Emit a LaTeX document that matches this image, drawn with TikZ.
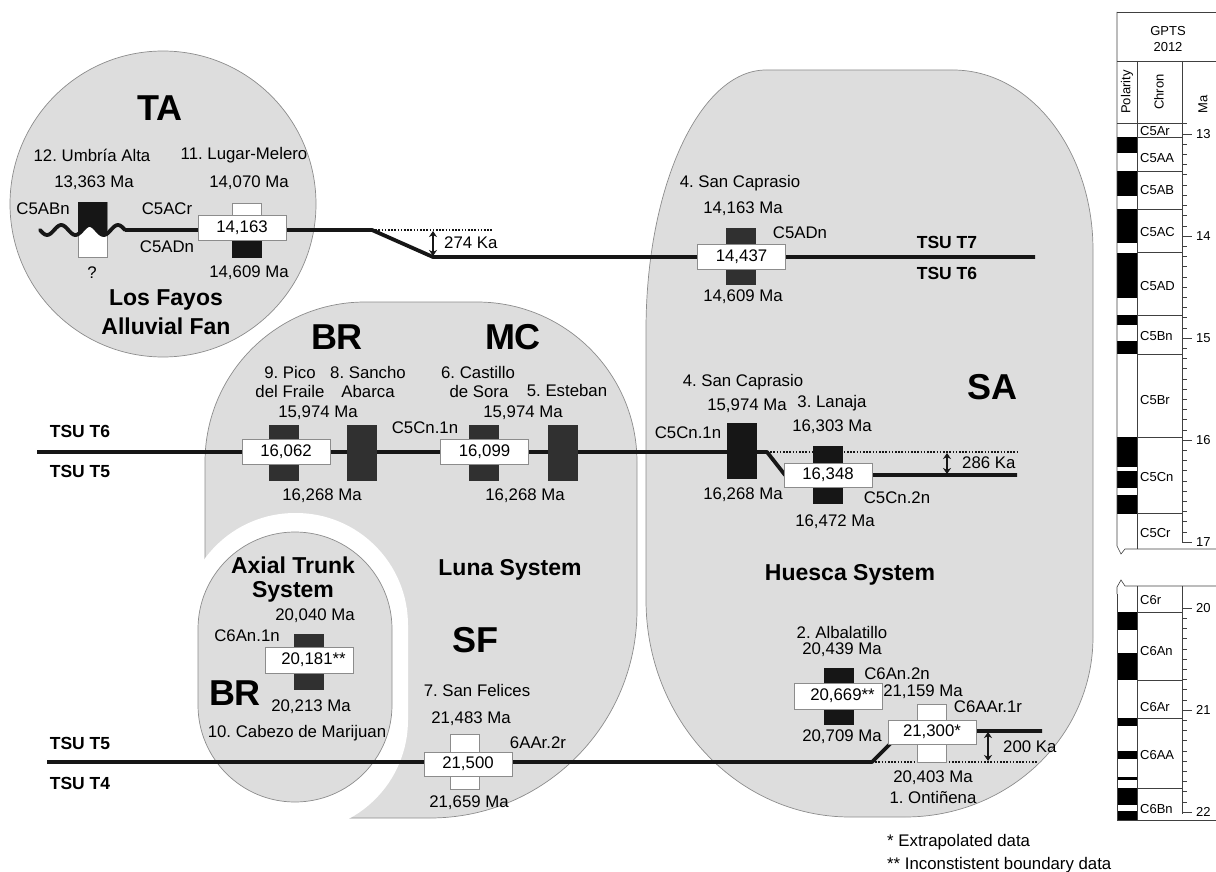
\documentclass[tikz,border=0pt]{standalone}
\usepackage{fontspec}
\setmainfont{Liberation Sans}
\usetikzlibrary{arrows.meta}
\definecolor{shade}{RGB}{221,221,221}
\definecolor{edge}{RGB}{140,140,140}
\definecolor{dk}{RGB}{48,48,48}
\definecolor{blk}{RGB}{22,22,22}
\frenchspacing
\begin{document}
\begin{tikzpicture}[x=1pt,y=-1pt]
\tikzset{
 reg/.style={fill=shade, draw=edge, line width=0.7pt},
 halo/.style={fill=white, draw=none},
 tsu/.style={line width=3.8pt, line join=round, color=blk},
 dots/.style={line width=1.6pt, dash pattern=on 1.6pt off 1.6pt, color=blk},
 gap/.style={{Stealth[length=6pt,width=8pt]}-{Stealth[length=6pt,width=8pt]}, line width=1.6pt, color=blk},
 darkbox/.style={fill=dk, draw=dk, inner sep=0pt, minimum width=29pt},
 blackbox/.style={fill=blk, draw=blk, inner sep=0pt, minimum width=29pt},
 whitebox/.style={fill=white, draw=edge, line width=0.8pt, inner sep=0pt, minimum width=29pt},
 lab/.style={fill=white, draw=edge, line width=0.8pt, minimum width=88pt, minimum height=25pt, inner sep=0pt, font=\fontsize{16.8}{19}\selectfont},
 tx/.style={inner sep=0pt, font=\fontsize{16.8}{19}\selectfont},
 txb/.style={inner sep=0pt, font=\bfseries\fontsize{17.5}{20}\selectfont},
 big/.style={inner sep=0pt, font=\bfseries\fontsize{36}{40}\selectfont},
 sys/.style={inner sep=0pt, font=\bfseries\fontsize{23}{26}\selectfont},
 gp/.style={inner sep=0pt, font=\fontsize{13}{15}\selectfont},
}
\useasboundingbox (0,0) rectangle (1216,872);

% ---------- regions ----------
% Huesca (SA)
\draw[reg] (646,330) .. controls (646,186.4) and (699.7,70) .. (766,70)
  -- (953,70) .. controls (1030.3,70) and (1093,150.6) .. (1093,250)
  -- (1093,637) .. controls (1093,736.4) and (1008.8,817) .. (905,817)
  -- (850,817) .. controls (737.3,817) and (646,719.8) .. (646,600) -- cycle;
% TA circle
\draw[reg] (163,204) circle[radius=153pt];
% Luna (its lower-left part is hidden under the white halo)
\draw[reg] (205,600) -- (205,462) .. controls (205,373.6) and (276.6,302) .. (365,302)
  -- (477,302) .. controls (565.4,302) and (637,373.6) .. (637,462)
  -- (637,610) .. controls (637,724.9) and (544.3,818) .. (430,818)
  -- (300,818) -- (300,600) -- cycle;
% white halo and Axial trunk
\fill[halo, rounded corners=112pt] (183,513) rectangle (408,832);
\draw[reg, rounded corners=97pt] (198,532) rectangle (392,802);

% ---------- TSU lines ----------
\coordinate (w1) at (125,230);
\coordinate (k1) at (372,230);
\coordinate (k2) at (433,257);
\coordinate (e1) at (1035,257);
\coordinate (d1) at (492,230);
\draw[tsu] (w1) -- (k1) -- (k2) -- (e1);
\draw[dots] (k1) -- (d1);

\coordinate (s0) at (37,452);
\coordinate (s1) at (767,452);
\coordinate (s2) at (785,475);
\coordinate (s3) at (1017,475);
\coordinate (s4) at (1017,452);
\draw[tsu] (s0) -- (s1) -- (s2) -- (s3);
\draw[dots] (s1) -- (s4);

\coordinate (u0) at (47,762);
\coordinate (u1) at (872,762);
\coordinate (u2) at (903,731);
\coordinate (u3) at (1042,731);
\coordinate (u4) at (1038,762);
\draw[tsu] (u0) -- (u1) -- (u2) -- (u3);
\draw[dots] (u1) -- (u4);

% gap arrows
\coordinate (a1t) at (433,231); \coordinate (a1b) at (433,256);
\draw[gap] (a1t) -- (a1b);
\coordinate (a2t) at (947,453); \coordinate (a2b) at (947,474);
\draw[gap] (a2t) -- (a2b);
\coordinate (a3t) at (988,732); \coordinate (a3b) at (988,761);
\draw[gap] (a3t) -- (a3b);

% ---------- polarity boxes ----------
% 12 Umbria Alta (split by wavy line)
\node[whitebox, minimum height=55pt] (b12) at (92.5,229.5) {};
\fill[blk] (78,202) -- (107,202) -- plot[domain=107:78,samples=20] (\x,{230+5*sin((\x-40)*12.70588)}) -- cycle;
\draw[tsu, line cap=round] plot[domain=40:125,samples=60] (\x,{230+5*sin((\x-40)*12.70588)});
% 11 Lugar-Melero
\node[whitebox, minimum height=26pt] (b11a) at (246.5,216) {};
\node[blackbox, minimum height=22pt] (b11b) at (246.5,246) {};
\node[lab] (l11) at (242,228) {14,163};
% 4 San Caprasio (T7)
\node[darkbox, minimum height=56pt] (b4a) at (741,256) {};
\node[lab] (l4a) at (741.5,256.5) {14,437};
% T6 line
\node[darkbox, minimum height=55pt] (b9) at (284,452.5) {};
\node[lab] (l9) at (286,451.5) {16,062};
\node[darkbox, minimum height=55pt] (b8) at (361.5,452.5) {};
\node[darkbox, minimum height=55pt] (b6) at (483.5,452.5) {};
\node[lab] (l6) at (484.5,451.5) {16,099};
\node[darkbox, minimum height=55pt] (b5) at (562.5,452.5) {};
\node[blackbox, minimum height=55pt] (b4b) at (741.5,450.5) {};
\node[blackbox, minimum height=57pt] (b3) at (827.5,474.5) {};
\node[lab, minimum height=24pt] (l3) at (828,475) {16,348};
% T5 line
\node[darkbox, minimum height=55pt] (b10) at (309,661.5) {};
\node[lab, minimum height=26pt] (l10) at (309,660) {\hspace*{9pt}20,181**};
\node[whitebox, minimum height=55pt] (b7) at (465,761.5) {};
\node[lab, minimum height=24pt] (l7) at (468,764) {21,500};
\node[blackbox, minimum height=56pt] (b2) at (838.5,696) {};
\node[lab, minimum height=26pt] (l2) at (838,696) {\hspace*{9pt}20,669**};
\node[whitebox, minimum height=58pt] (b1) at (931.5,733) {};
\node[lab, minimum height=24pt] (l1) at (932,732) {21,300*};

% ---------- texts ----------
\node[big] (tTA) at (160,108) {TA};
\node[tx] (n1) at (92,155) {12. Umbría Alta};
\node[tx] (n2) at (244,155) {11. Lugar-Melero};
\node[tx] (n3) at (94,183) {13,363 Ma};
\node[tx] (n4) at (249,183) {14,070 Ma};
\node[tx] (n5) at (43,209) {C5ABn};
\node[tx] (n6) at (167,209) {C5ACr};
\node[tx] (n7) at (167,247) {C5ADn};
\node[tx] (n8) at (92,273) {?};
\node[tx] (n9) at (249,273) {14,609 Ma};
\node[sys] (n10) at (166,300) {Los Fayos};
\node[sys] (n11) at (166,326) {Alluvial Fan};
\node[tx, anchor=west] (n12) at (444,243) {274 Ka};

\node[tx] (n13) at (740,183) {4. San Caprasio};
\node[tx] (n14) at (743,209) {14,163 Ma};
\node[tx] (n15) at (800,233) {C5ADn};
\node[txb] (n16) at (947,242) {TSU T7};
\node[txb] (n17) at (947,273) {TSU T6};
\node[tx] (n18) at (743,297) {14,609 Ma};

\node[txb] (n19) at (80,431) {TSU T6};
\node[txb] (n20) at (80,471) {TSU T5};
\node[big] (tBR1) at (337,337) {BR};
\node[big] (tMC) at (513,337) {MC};
\node[tx] (n21) at (290,372) {9. Pico};
\node[tx] (n22) at (290,391) {del Fraile};
\node[tx] (n23) at (368,372) {8. Sancho};
\node[tx] (n24) at (368,391) {Abarca};
\node[tx] (n25) at (478,372) {6. Castillo};
\node[tx] (n26) at (479,391) {de Sora};
\node[tx] (n27) at (567,390) {5. Esteban};
\node[tx] (n28) at (318,413) {15,974 Ma};
\node[tx] (n29) at (523,413) {15,974 Ma};
\node[tx] (n30) at (425,428) {C5Cn.1n};
\node[tx] (n31) at (322,496) {16,268 Ma};
\node[tx] (n32) at (525,496) {16,268 Ma};
\node[tx] (n33) at (743,382) {4. San Caprasio};
\node[tx] (n34) at (747,406) {15,974 Ma};
\node[tx] (n35) at (832,403) {3. Lanaja};
\node[tx] (n36) at (832,427) {16,303 Ma};
\node[tx] (n37) at (688,433) {C5Cn.1n};
\node[tx] (n38) at (743,495) {16,268 Ma};
\node[tx] (n39) at (897,498) {C5Cn.2n};
\node[tx] (n40) at (835,522) {16,472 Ma};
\node[big] (tSA) at (992,387) {SA};
\node[tx, anchor=west] (n41) at (962,463) {286 Ka};

\node[sys] (n42) at (850,575) {Huesca System};
\node[sys] (n43) at (510,570) {Luna System};
\node[sys] (n44) at (293,565) {Axial Trunk};
\node[sys] (n45) at (293,592) {System};
\node[big] (tSF) at (475,640) {SF};
\node[big] (tBR2) at (235,693) {BR};
\node[tx] (n46) at (315,616) {20,040 Ma};
\node[tx] (n47) at (247,636) {C6An.1n};
\node[tx] (n48) at (311,707) {20,213 Ma};
\node[tx] (n49) at (297,733) {10. Cabezo de Marijuan};
\node[tx] (n50) at (477,690) {7. San Felices};
\node[tx] (n51) at (471,719) {21,483 Ma};
\node[tx] (n52) at (538,743) {6AAr.2r};
\node[tx] (n53) at (469,803) {21,659 Ma};
\node[txb] (n54) at (80,743) {TSU T5};
\node[txb] (n55) at (80,783) {TSU T4};
\node[tx] (n56) at (842,632) {2. Albalatillo};
\node[tx] (n57) at (842,650) {20,439 Ma};
\node[tx] (n58) at (897,674) {C6An.2n};
\node[tx] (n59) at (923,692) {21,159 Ma};
\node[tx] (n60) at (988,707) {C6AAr.1r};
\node[tx] (n61) at (842,737) {20,709 Ma};
\node[tx] (n62) at (933,778) {20,403 Ma};
\node[tx] (n63) at (933,797) {1. Ontiñena};
\node[tx, anchor=west] (n64) at (1003,747) {200 Ka};
\node[tx, anchor=west] (n65) at (887,842) {* Extrapolated data};
\node[tx, anchor=west] (n66) at (887,865) {** Inconstistent boundary data};

% ---------- GPTS column ----------
\foreach \a/\b in {13.032/13.183, 13.363/13.608, 13.739/14.070, 14.163/14.609, 14.775/14.870, 15.032/15.160, 15.974/16.268, 16.303/16.472, 16.543/16.721}
  \fill[black] (1117,{134+102*(\a-13)}) rectangle (1137,{134+102*(\b-13)});
\foreach \a/\b in {20.040/20.213, 20.439/20.709, 21.083/21.159, 21.403/21.483, 21.659/21.688, 21.767/21.936, 21.992/22.078}
  \fill[black] (1117,{710+102*(\a-21)}) rectangle (1137,{710+102*(\b-21)});
\begin{scope}[draw=black!75, line width=0.6pt]
% upper frame
\draw (1117,12) -- (1216,12);
\draw (1117,61) -- (1216,61);
\draw (1117,12) -- (1117,546) -- (1121,554) -- (1125,549) -- (1216,549);
\draw (1137,61) -- (1137,549);
\draw (1117,123) -- (1182,123);
\foreach \t in {13.032,13.363,13.739,14.163,14.775,15.160,15.974,16.721}
  \draw (1137,{134+102*(\t-13)}) -- (1182,{134+102*(\t-13)});
\draw (1182,61) -- (1182,542);
\foreach \i in {129,...,170} \draw (1182,{134+10.2*(\i-130)}) -- ++(5,0);
\foreach \i in {130,140,150,160,170} \draw (1182,{134+10.2*(\i-130)}) -- ++(10,0);
% lower frame
\draw (1117,594) -- (1117,587) -- (1121,580) -- (1125,586) -- (1216,586);
\draw (1117,594) -- (1117,820) -- (1216,820);
\draw (1137,586) -- (1137,820);
\foreach \t in {20.040,20.709,21.083,21.767}
  \draw (1137,{710+102*(\t-21)}) -- (1182,{710+102*(\t-21)});
\draw (1182,586) -- (1182,814);
\foreach \i in {200,...,220} \draw (1182,{710+10.2*(\i-210)}) -- ++(5,0);
\foreach \i in {200,210,220} \draw (1182,{710+10.2*(\i-210)}) -- ++(10,0);
\end{scope}
\node[gp] (g1) at (1168,31) {GPTS};
\node[gp] (g2) at (1168,47) {2012};
\node[gp, rotate=90] (g3) at (1127,92) {Polarity};
\node[gp, rotate=90] (g4) at (1159,92) {Chron};
\node[gp, rotate=90] (g5) at (1203,104) {Ma};
\node[gp, anchor=west] (m13) at (1196,134) {13};
\node[gp, anchor=west] (m14) at (1196,236) {14};
\node[gp, anchor=west] (m15) at (1196,338) {15};
\node[gp, anchor=west] (m16) at (1196,440) {16};
\node[gp, anchor=west] (m17) at (1196,542) {17};
\node[gp, anchor=west] (m20) at (1196,608) {20};
\node[gp, anchor=west] (m21) at (1196,710) {21};
\node[gp, anchor=west] (m22) at (1196,812) {22};
\node[gp, anchor=west] (c1) at (1140,131) {C5Ar};
\node[gp, anchor=west] (c2) at (1140,158) {C5AA};
\node[gp, anchor=west] (c3) at (1140,190) {C5AB};
\node[gp, anchor=west] (c4) at (1140,232) {C5AC};
\node[gp, anchor=west] (c5) at (1140,286) {C5AD};
\node[gp, anchor=west] (c6) at (1140,336) {C5Bn};
\node[gp, anchor=west] (c7) at (1140,400) {C5Br};
\node[gp, anchor=west] (c8) at (1140,477) {C5Cn};
\node[gp, anchor=west] (c9) at (1140,533) {C5Cr};
\node[gp, anchor=west] (c10) at (1140,600) {C6r};
\node[gp, anchor=west] (c11) at (1140,651) {C6An};
\node[gp, anchor=west] (c12) at (1140,707) {C6Ar};
\node[gp, anchor=west] (c13) at (1140,755) {C6AA};
\node[gp, anchor=west] (c14) at (1140,809) {C6Bn};
\end{tikzpicture}
\end{document}
